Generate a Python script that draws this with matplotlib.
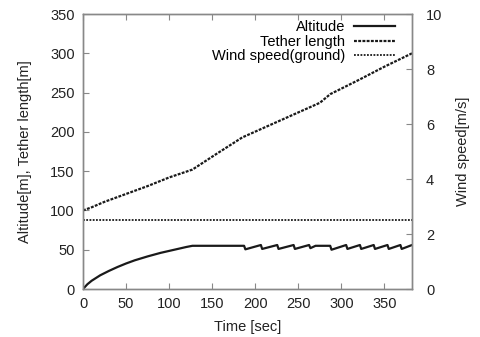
import numpy as np
import matplotlib.pyplot as plt

plt.rcParams['font.family'] = ['Liberation Sans', 'DejaVu Sans']
plt.rcParams['font.size'] = 10.5

# altitude [m]
alt_t = [0, 5, 10, 20, 30, 40, 50, 60, 75, 90, 100, 110, 120, 127,
         187, 188.5, 206.5, 208, 225.5, 227, 244.5, 246, 262.5, 264, 270,
         287, 288.5, 305.5, 307, 321.5, 323, 337.5, 339, 353.5, 355, 368.5, 370, 382]
alt_v = [0, 6, 10.5, 17.5, 23, 28, 32.5, 36.5, 41.5, 46, 48.5, 51, 53.5, 55,
         55, 50.5, 56, 51, 56, 51, 56, 51, 56, 52, 55,
         55, 50, 56, 51, 56, 51, 56, 51, 56, 51, 56, 51, 56]

# tether length [m]
tet_t = [0, 10, 25, 50, 75, 100, 127, 155, 185, 230, 275, 287, 320, 350, 382]
tet_v = [100, 104, 111, 121, 131, 142, 152, 172, 193, 215, 237, 248, 266, 283, 300]

# ground wind speed [m/s]
wind_t = [0, 382]
wind_v = [2.5, 2.5]

fig = plt.figure(figsize=(4.81, 3.37), dpi=100)
ax = fig.add_axes([0.1726, 0.1424, 0.684, 0.816])
ax2 = ax.twinx()

l1, = ax.plot(alt_t, alt_v, color='#1a1a1a', lw=1.6, label='Altitude')
l2, = ax.plot(tet_t, tet_v, color='#1a1a1a', lw=1.6, ls=(0, (1.3, 0.6)), label='Tether length')
l3, = ax2.plot(wind_t, wind_v, color='#1a1a1a', lw=1.3, ls=(0, (1, 0.8)), label='Wind speed(ground)')

ax.set_xlim(0, 382)
ax.set_ylim(0, 350)
ax2.set_ylim(0, 10)
ax.set_xticks(np.arange(0, 351, 50))
ax.set_yticks(np.arange(0, 351, 50))
ax2.set_yticks(np.arange(0, 11, 2))

for a in (ax, ax2):
    for s in a.spines.values():
        s.set_color('#888888')
        s.set_linewidth(1.0)
    a.tick_params(direction='in', length=4, color='#888888', labelcolor='#222222')
ax.tick_params(axis='x', top=True, pad=6)
ax.tick_params(axis='y', right=False, pad=6)
ax2.tick_params(axis='y', pad=10)

ax.set_xlabel('Time [sec]', color='#222222', labelpad=6)
ax.set_ylabel('Altitude[m], Tether length[m]', color='#222222', labelpad=13)
ax2.set_ylabel('Wind speed[m/s]', color='#222222', labelpad=10)

ax2.legend(handles=[l1, l2, l3], loc='upper right', frameon=False, markerfirst=False,
           handlelength=2.8, labelspacing=0.05, borderaxespad=0, borderpad=0,
           handletextpad=0.6, bbox_to_anchor=(395 / 481, 1 - 20 / 337),
           bbox_transform=fig.transFigure)

fig.savefig('out.png', dpi=100)
